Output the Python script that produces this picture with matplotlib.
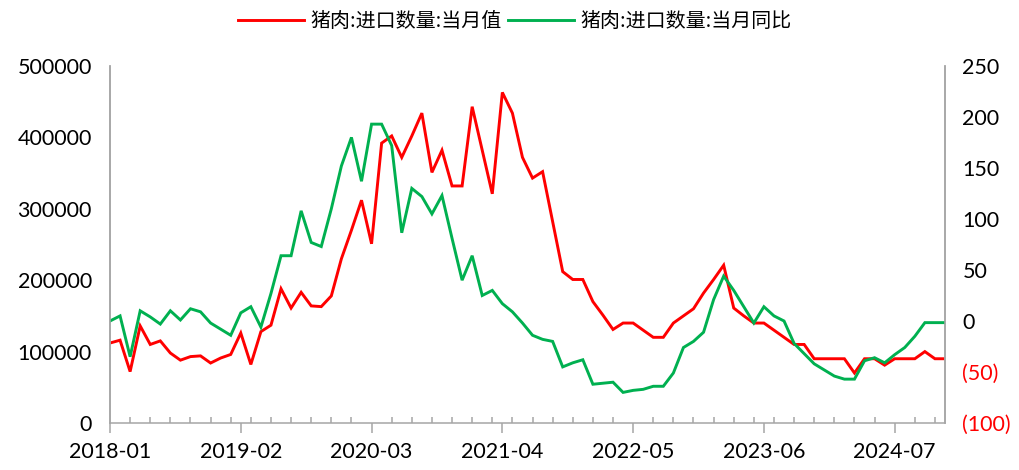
import matplotlib
matplotlib.use("Agg")
import matplotlib.pyplot as plt
from matplotlib.lines import Line2D

plt.rcParams['font.family'] = ['Lato', 'Noto Sans CJK SC', 'DejaVu Sans']

# ---- data -------------------------------------------------------------
start_year, start_month = 2018, 1
import_volume = [
    112000, 116000, 72000, 136000, 110000, 115000, 98000, 88000, 93000, 94000,
    84000, 91000, 96000, 126000, 82000, 128000, 137000, 188000, 161000, 183000,
    164000, 163000, 178000, 230000, 270000, 312000, 251000, 392000, 402000, 372000,
    402000, 434000, 351000, 382000, 332000, 332000, 443000, 382000, 321000, 463000,
    434000, 372000, 343000, 352000, 282000, 212000, 201000, 201000, 170000, 151000,
    131000, 140000, 140000, 130000, 120000, 120000, 140000, 150000, 160000, 182000,
    201000, 221000, 161000, 150000, 140000, 140000, 130000, 120000, 110000, 110000,
    90000, 90000, 90000, 90000, 70000, 90000, 90000, 81000, 90000, 90000,
    90000, 100000, 90000, 90000,
]
yoy_change = [
    0, 5, -35, 10, 4, -3, 10, 1, 12, 9,
    -2, -8, -14, 8, 14, -6, 27, 64, 64, 108,
    77, 73, 110, 152, 180, 137, 193, 193, 172, 86.5,
    130, 122, 105, 123, 81, 40, 64, 25, 30, 17,
    9, -2, -14, -18, -20, -45, -41, -38, -62, -61,
    -60, -70, -68, -67, -64, -64, -51, -26, -20, -11,
    21, 44, 30, 14, -2, 14, 5, 0, -22, -32,
    -42, -48, -54, -57, -57, -39, -36, -41, -33, -26,
    -15, -1.6, -1.6, -1.6,
]
series_names = ['猪肉:进口数量:当月值', '猪肉:进口数量:当月同比']
left_ticks = [0, 100000, 200000, 300000, 400000, 500000]
right_ticks = [-100, -50, 0, 50, 100, 150, 200, 250]

n = len(import_volume)
months = []
for k in range(n):
    y = start_year + (start_month - 1 + k) // 12
    m = (start_month - 1 + k) % 12 + 1
    months.append(f"{y}-{m:02d}")
x = list(range(n))

# ---- figure -----------------------------------------------------------
RED = '#FF0000'
GREEN = '#00B050'
GRAY = '#A6A6A6'
FS = 15.5

fig = plt.figure(figsize=(10.2, 4.7), dpi=100)
ax = fig.add_axes([110 / 1020, 47 / 470, 835 / 1020, 357 / 470])
ax2 = ax.twinx()

ax.plot(x, import_volume, color=RED, lw=2.1, solid_joinstyle='miter')
ax2.plot(x, yoy_change, color=GREEN, lw=2.1, solid_joinstyle='miter')

ax.set_xlim(0, n - 1)
ax.set_ylim(0, 500000)
ax2.set_ylim(-100, 250)

major_idx = list(range(0, n, 13))
ax.set_xticks(major_idx)
ax.set_xticklabels([months[i] for i in major_idx], fontsize=FS)
ax.set_xticks(list(range(2, n, 2)), minor=True)
ax.tick_params(axis='x', which='major', direction='out', length=7, width=1.1,
               color=GRAY, pad=7)
ax.tick_params(axis='x', which='minor', direction='in', length=4.3, width=1.1,
               color=GRAY)

ax.set_yticks(left_ticks)
ax.set_yticklabels([f"{v:d}" for v in left_ticks], fontsize=FS)
ax.tick_params(axis='y', length=0, pad=13)

ax2.set_yticks(right_ticks)
ax2.set_yticklabels([f"({-v})" if v < 0 else f"{v}" for v in right_ticks],
                    fontsize=FS)
ax2.tick_params(axis='y', length=0, pad=12.5)
for v, lab in zip(right_ticks, ax2.get_yticklabels()):
    if v < 0:
        lab.set_color(RED)

for a in (ax, ax2):
    a.spines['top'].set_visible(False)
    for s in ('left', 'right', 'bottom'):
        a.spines[s].set_color(GRAY)
        a.spines[s].set_linewidth(1.1)
ax2.spines['bottom'].set_visible(False)

handles = [Line2D([], [], color=RED, lw=2.1), Line2D([], [], color=GREEN, lw=2.1)]
fig.legend(handles, series_names, loc='center', bbox_to_anchor=(515 / 1020, 1 - 21 / 470),
           ncol=2, frameon=False, handlelength=3.3, handletextpad=0.3,
           columnspacing=0.35, prop={'family': ['Noto Sans CJK SC', 'DejaVu Sans'],
                                     'size': 14.4})

fig.savefig('out.png', dpi=100)
